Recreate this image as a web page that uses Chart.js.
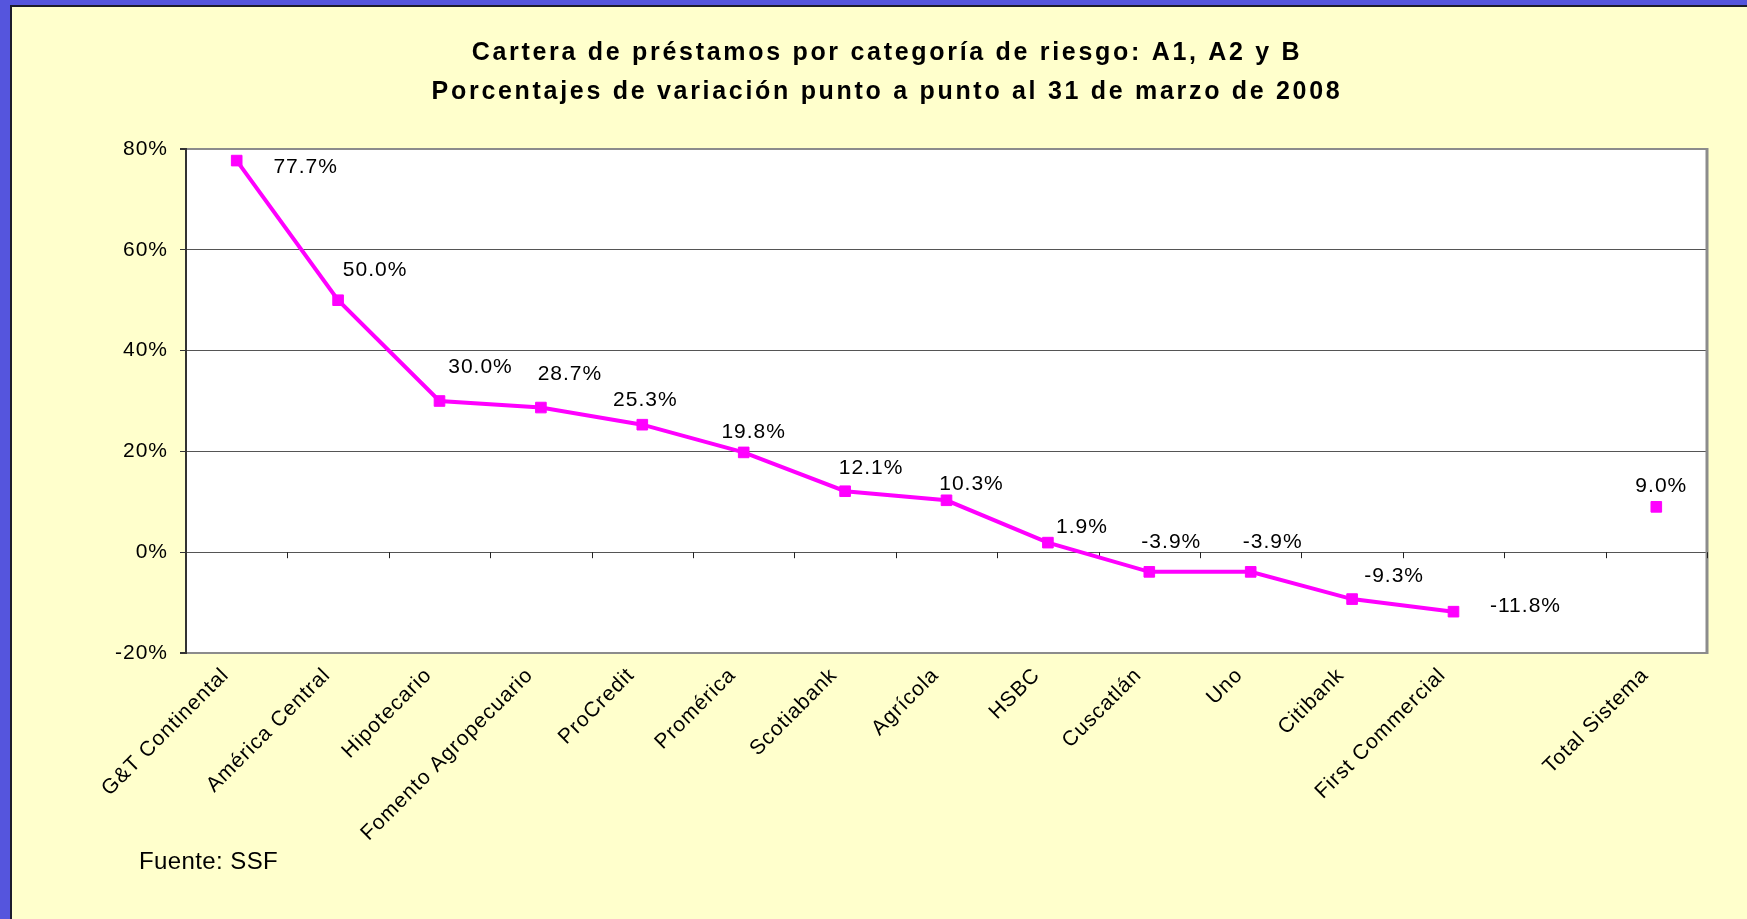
<!DOCTYPE html>
<html>
<head>
<meta charset="utf-8">
<script src="https://cdn.jsdelivr.net/npm/chart.js@4/dist/chart.umd.min.js"></script>
<style>
  html, body { margin: 0; padding: 0; width: 1747px; height: 919px; overflow: hidden; background: #5555dd; }
  #frame { position: absolute; left: 10px; top: 5px; width: 1737px; height: 914px;
           border-left: 2px solid #1c1c2c; border-top: 2px solid #1c1c2c; background: #FFFFCC; box-sizing: border-box; }
  #wrap { position: absolute; left: 0; top: 0; width: 1735px; height: 912px; }
</style>
</head>
<body>
<div id="frame"><div id="wrap"><canvas id="c" width="1735" height="912"></canvas></div></div>
<script>
const titleLines = ['Cartera de préstamos por categoría de riesgo: A1, A2 y B',
                    'Porcentajes de variación punto a punto al 31 de marzo de 2008'];
const sourceNote = 'Fuente: SSF';
const categories = ['G&T Continental', 'América Central', 'Hipotecario', 'Fomento Agropecuario',
  'ProCredit', 'Promérica', 'Scotiabank', 'Agrícola', 'HSBC', 'Cuscatlán', 'Uno', 'Citibank',
  'First Commercial', '', 'Total Sistema'];
const variation = [77.7, 50.0, 30.0, 28.7, 25.3, 19.8, 12.1, 10.3, 1.9, -3.9, -3.9, -9.3, -11.8, null, 9.0];
const yTickValues = [-20, 0, 20, 40, 60, 80];

const FONT = '"Liberation Sans", Arial, sans-serif';
const MAGENTA = '#FF00FF';

// label placement relative to each point (dx, dy), layout only
const labelOffsets = [[69, 7], [37, -30], [41, -34], [29, -33], [3, -24], [10, -20], [26, -23],
  [25, -16], [34, -15], [22, -30], [22, -30], [42, -23], [72, -5], [0, 0], [5, -21]];

const plotFrame = {
  id: 'plotFrame',
  beforeDraw(chart) {
    const { ctx, chartArea: a } = chart;
    ctx.save();
    ctx.fillStyle = '#ffffff';
    ctx.fillRect(a.left, a.top, a.right - a.left, a.bottom - a.top);
    ctx.restore();
    if ('letterSpacing' in ctx) ctx.letterSpacing = '2.7px'; // wide title lettering
  },
  beforeDatasetsDraw(chart) {
    const { ctx, chartArea: a, scales } = chart;
    if ('letterSpacing' in ctx) ctx.letterSpacing = '1px';
    ctx.save();
    // right border
    ctx.strokeStyle = '#8c8c8c';
    ctx.lineWidth = 3;
    ctx.beginPath();
    ctx.moveTo(a.right, a.top - 1);
    ctx.lineTo(a.right, a.bottom + 1);
    ctx.stroke();
    // category tick marks on the zero line
    const y0 = scales.y.getPixelForValue(0);
    const n = categories.length;
    const w = (a.right - a.left) / n;
    ctx.strokeStyle = '#222';
    ctx.lineWidth = 1;
    ctx.beginPath();
    for (let k = 1; k <= n; k++) {
      const x = Math.round(a.left + k * w) + 0.5;
      ctx.moveTo(x, y0);
      ctx.lineTo(x, y0 + 6);
    }
    ctx.stroke();
    ctx.restore();
  },
  afterDatasetsDraw(chart) {
    const { ctx } = chart;
    const meta = chart.getDatasetMeta(0);
    ctx.save();
    ctx.font = '21px ' + FONT;
    ctx.fillStyle = '#000';
    ctx.textAlign = 'center';
    ctx.textBaseline = 'middle';
    meta.data.forEach((pt, i) => {
      const v = variation[i];
      if (v === null || v === undefined) return;
      const [dx, dy] = labelOffsets[i];
      ctx.fillText(v.toFixed(1) + '%', pt.x + dx, pt.y + dy);
    });
    // source note
    if ('letterSpacing' in ctx) ctx.letterSpacing = '0.4px';
    ctx.textAlign = 'left';
    ctx.textBaseline = 'alphabetic';
    ctx.font = '24px ' + FONT;
    ctx.fillText(sourceNote, 127, 862);
    ctx.restore();
  }
};

new Chart(document.getElementById('c'), {
  type: 'line',
  data: {
    labels: categories,
    datasets: [{
      data: variation,
      borderColor: MAGENTA,
      backgroundColor: MAGENTA,
      borderWidth: 4,
      pointStyle: 'rect',
      pointRadius: 7.5,
      pointBorderWidth: 1,
      pointBorderColor: MAGENTA,
      pointBackgroundColor: MAGENTA,
      spanGaps: false,
      tension: 0
    }]
  },
  options: {
    responsive: false,
    animation: false,
    devicePixelRatio: 1,
    layout: { padding: { left: 55, right: 40, top: 0, bottom: 0 } },
    plugins: {
      legend: { display: false },
      tooltip: { enabled: false },
      title: {
        display: true,
        text: titleLines,
        color: '#000',
        font: { family: FONT, size: 25, weight: 'bold', lineHeight: 1.56 },
        padding: { top: 27, bottom: 37 }
      }
    },
    scales: {
      x: {
        offset: true,
        grid: { display: false, drawTicks: false },
        border: { display: false },
        ticks: {
          z: 1,
          autoSkip: false,
          maxRotation: 45,
          minRotation: 45,
          padding: 10,
          labelOffset: -11,
          color: '#000',
          font: { family: FONT, size: 21 }
        },
        afterFit(scale) { scale.height = 266; }
      },
      y: {
        min: -20,
        max: 80,
        afterBuildTicks(scale) { scale.ticks = yTickValues.map(v => ({ value: v })); },
        grid: {
          color: ctx => (ctx.tick && (ctx.tick.value === 80 || ctx.tick.value === -20)) ? '#8c8c8c' : '#555555',
          lineWidth: ctx => (ctx.tick && (ctx.tick.value === 80 || ctx.tick.value === -20)) ? 2 : 1,
          tickLength: 6,
          tickColor: '#333'
        },
        border: { display: true, color: '#333', width: 2 },
        ticks: {
          z: 1,
          padding: 12,
          color: '#000',
          font: { family: FONT, size: 21 },
          callback: v => v + '%'
        },
        afterFit(scale) { scale.width = 119; }
      }
    }
  },
  plugins: [plotFrame]
});
</script>
</body>
</html>
